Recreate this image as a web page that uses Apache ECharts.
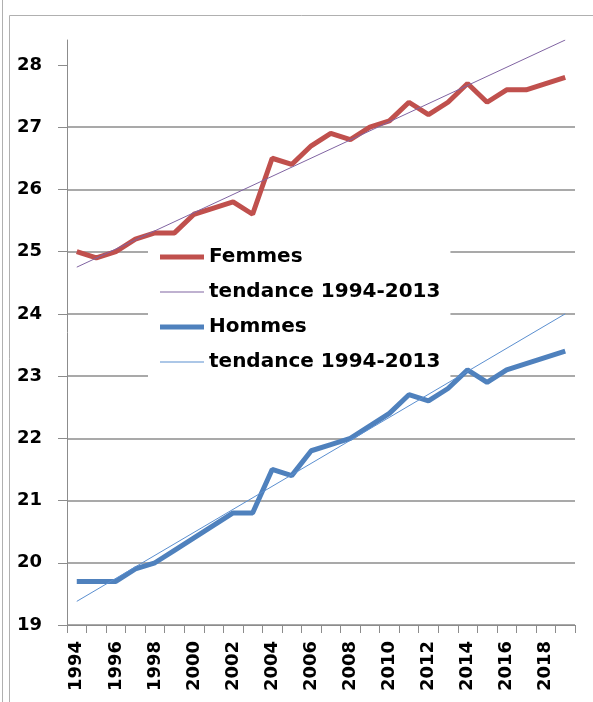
<!DOCTYPE html>
<html>
<head>
<meta charset="utf-8">
<script src="https://cdn.jsdelivr.net/npm/echarts@6/dist/echarts.min.js"></script>
<style>
html, body { margin: 0; padding: 0; background: #fff; }
#chart { width: 593px; height: 702px; }
</style>
</head>
<body>
<div id="chart"></div>
<script>
// années 1994 - 2019
const years = ['1994', '1995', '1996', '1997', '1998', '1999', '2000', '2001', '2002', '2003',
	'2004', '2005', '2006', '2007', '2008', '2009', '2010', '2011', '2012', '2013',
	'2014', '2015', '2016', '2017', '2018', '2019'];

const femmes = [25.0, 24.9, 25.0, 25.2, 25.3, 25.3, 25.6, 25.7, 25.8, 25.6,
	26.5, 26.4, 26.7, 26.9, 26.8, 27.0, 27.1, 27.4, 27.2, 27.4,
	27.7, 27.4, 27.6, 27.6, 27.7, 27.8];

const hommes = [19.7, 19.7, 19.7, 19.9, 20.0, 20.2, 20.4, 20.6, 20.8, 20.8,
	21.5, 21.4, 21.8, 21.9, 22.0, 22.2, 22.4, 22.7, 22.6, 22.8,
	23.1, 22.9, 23.1, 23.2, 23.3, 23.4];

// tendance : valeurs aux deux extrémités (1994, 2019)
const tendanceFemmes = [24.75, 28.4];
const tendanceHommes = [19.38, 24.0];

const yTicks = [19, 20, 21, 22, 23, 24, 25, 26, 27, 28];

function trendData(ends) {
	const d = years.map(() => null);
	d[0] = ends[0];
	d[d.length - 1] = ends[1];
	return d;
}

// icônes de légende : trait épais / trait fin (le M0,0 M44,16 fixe la boîte)
const iconThick = 'path://M0,0M44,16M0,5.5L44,5.5L44,10.5L0,10.5Z';
const iconThin = 'path://M0,0M44,16M0,7.5L44,7.5L44,8.5L0,8.5Z';

const font = 'DejaVu Sans';
const chart = echarts.init(document.getElementById('chart'));

chart.setOption({
	animation: false,
	backgroundColor: '#fff',
	graphic: [
		{ type: 'line', shape: { x1: 2.5, y1: 0, x2: 2.5, y2: 702 }, style: { stroke: '#b0b0b0', lineWidth: 1 } },
		{ type: 'line', shape: { x1: 9.5, y1: 15.5, x2: 9.5, y2: 702 }, style: { stroke: '#b0b0b0', lineWidth: 1 } },
		{ type: 'line', shape: { x1: 9.5, y1: 15.5, x2: 593, y2: 15.5 }, style: { stroke: '#b0b0b0', lineWidth: 1 } }
	],
	grid: {
		left: 67,
		right: 18,
		top: 40,
		bottom: 77
	},
	legend: {
		orient: 'vertical',
		left: 148,
		top: 239,
		padding: [8, 10, 8, 12],
		itemGap: 15,
		itemWidth: 44,
		itemHeight: 16,
		backgroundColor: '#fff',
		data: [
			{ name: 'Femmes', icon: iconThick },
			{ name: 'tendanceF', icon: iconThin },
			{ name: 'Hommes', icon: iconThick },
			{ name: 'tendanceH', icon: iconThin }
		],
		formatter: (name) => name.startsWith('tendance') ? 'tendance 1994-2013' : name,
		textStyle: {
			fontFamily: font,
			fontWeight: 'bold',
			fontSize: 20,
			color: '#000'
		}
	},
	xAxis: {
		type: 'category',
		data: years,
		boundaryGap: true,
		axisLine: { lineStyle: { color: '#8c8c8c', width: 1 } },
		axisTick: {
			show: true,
			interval: 0,
			length: 8,
			lineStyle: { color: '#8c8c8c' }
		},
		axisLabel: {
			interval: 1,
			rotate: 90,
			margin: 16,
			fontFamily: font,
			fontWeight: 'bold',
			fontSize: 18,
			color: '#000'
		}
	},
	yAxis: {
		type: 'value',
		min: 19,
		max: 28.4,
		interval: 1,
		axisLine: { show: true, lineStyle: { color: '#8c8c8c', width: 1 } },
		axisTick: {
			show: true,
			length: 9,
			customValues: yTicks,
			lineStyle: { color: '#8c8c8c' }
		},
		axisLabel: {
			margin: 25,
			customValues: yTicks,
			fontFamily: font,
			fontWeight: 'bold',
			fontSize: 18,
			color: '#000'
		},
		splitLine: {
			show: true,
			showMaxLine: false,
			lineStyle: { color: '#8c8c8c', width: 1.5 }
		}
	},
	series: [
		{
			name: 'Femmes',
			type: 'line',
			data: femmes,
			symbol: 'none',
			z: 3,
			lineStyle: { color: '#C0504D', width: 5 },
			itemStyle: { color: '#C0504D' }
		},
		{
			name: 'tendanceF',
			type: 'line',
			data: trendData(tendanceFemmes),
			connectNulls: true,
			symbol: 'none',
			z: 4,
			lineStyle: { color: '#8064A2', width: 1 },
			itemStyle: { color: '#8064A2' }
		},
		{
			name: 'Hommes',
			type: 'line',
			data: hommes,
			symbol: 'none',
			z: 3,
			lineStyle: { color: '#4F81BD', width: 5 },
			itemStyle: { color: '#4F81BD' }
		},
		{
			name: 'tendanceH',
			type: 'line',
			data: trendData(tendanceHommes),
			connectNulls: true,
			symbol: 'none',
			z: 4,
			lineStyle: { color: '#5B8FD0', width: 1 },
			itemStyle: { color: '#5B8FD0' }
		}
	]
});
</script>
</body>
</html>
